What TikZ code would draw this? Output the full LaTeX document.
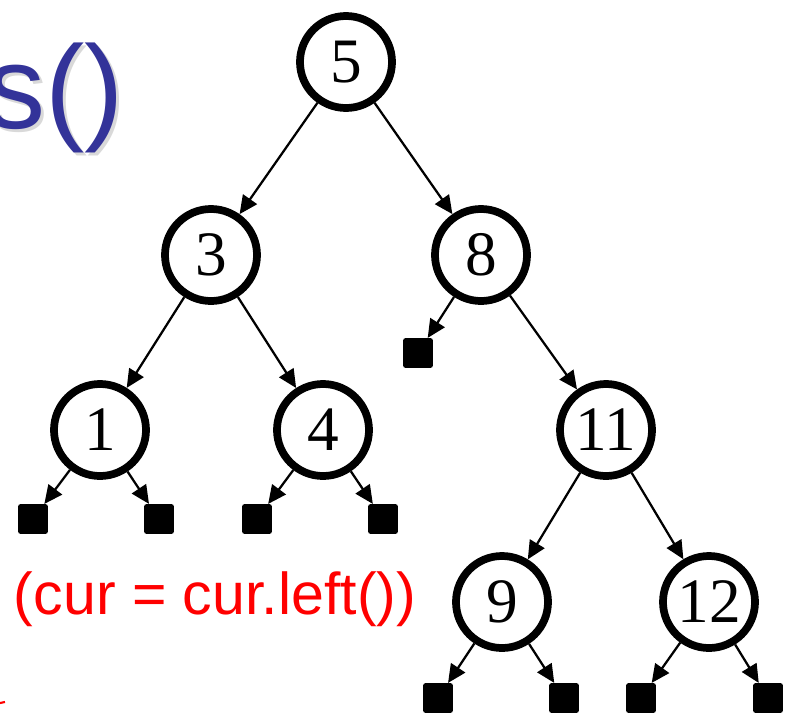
\documentclass[tikz,border=0pt]{standalone}
\usepackage{fontspec}
\setmainfont{Liberation Serif}
\newfontfamily\slidefont{Liberation Sans}
\usetikzlibrary{arrows.meta}
\definecolor{titleblue}{RGB}{51,51,153}

\begin{document}
\begin{tikzpicture}[x=0.025cm,y=-0.025cm,
  keynode/.style={draw,circle,line width=5.5pt,minimum size=2.3cm,inner sep=0pt,font=\fontsize{45}{45}\selectfont},
  nilbox/.style={fill,rectangle,rounded corners=1.5pt,minimum size=0.74cm,inner sep=0pt},
  treelink/.style={-{Triangle[length=13pt,width=12pt]},line width=1.6pt}]
\useasboundingbox (0,0) rectangle (788,717);
\node[anchor=base west,inner sep=0,text=black!15,font=\slidefont\fontsize{84}{84}\selectfont] (shadow) at (-11,131) {s()};
\node[anchor=base west,inner sep=0,text=titleblue,font=\slidefont\fontsize{84}{84}\selectfont] (title) at (-14,128) {s()};

\node[keynode] (n5) at (346,62) {5};
\node[keynode] (n3) at (211,255) {3};
\node[keynode] (n8) at (481,255) {8};
\node[keynode] (n1) at (100,430) {1};
\node[keynode] (n4) at (323,430) {4};
\node[keynode] (n11) at (606,430) {11};
\node[keynode] (n9) at (502,602) {9};
\node[keynode] (n12) at (709,602) {12};

\node[nilbox] (l8) at (418,353) {};
\node[nilbox] (l1a) at (33,519) {};
\node[nilbox] (l1b) at (159,519) {};
\node[nilbox] (l4a) at (257,519) {};
\node[nilbox] (l4b) at (383,519) {};
\node[nilbox] (l9a) at (438,698) {};
\node[nilbox] (l9b) at (564,698) {};
\node[nilbox] (l12a) at (641,698) {};
\node[nilbox] (l12b) at (768,698) {};

\draw[treelink] (n5) -- (n3);
\draw[treelink] (n5) -- (n8);
\draw[treelink] (n3) -- (n1);
\draw[treelink] (n3) -- (n4);
\draw[treelink] (n8) -- (l8);
\draw[treelink] (n8) -- (n11);
\draw[treelink] (n11) -- (n9);
\draw[treelink] (n11) -- (n12);
\draw[treelink] (n1) -- (l1a);
\draw[treelink] (n1) -- (l1b);
\draw[treelink] (n4) -- (l4a);
\draw[treelink] (n4) -- (l4b);
\draw[treelink] (n9) -- (l9a);
\draw[treelink] (n9) -- (l9b);
\draw[treelink] (n12) -- (l12a);
\draw[treelink] (n12) -- (l12b);

\node[anchor=base,text=red,font=\slidefont\fontsize{42}{42}\selectfont] (note) at (215,614) {(cur = cur.left())};
\draw[red,line width=1.5pt] (0,703) -- (5,702);
\end{tikzpicture}
\end{document}
